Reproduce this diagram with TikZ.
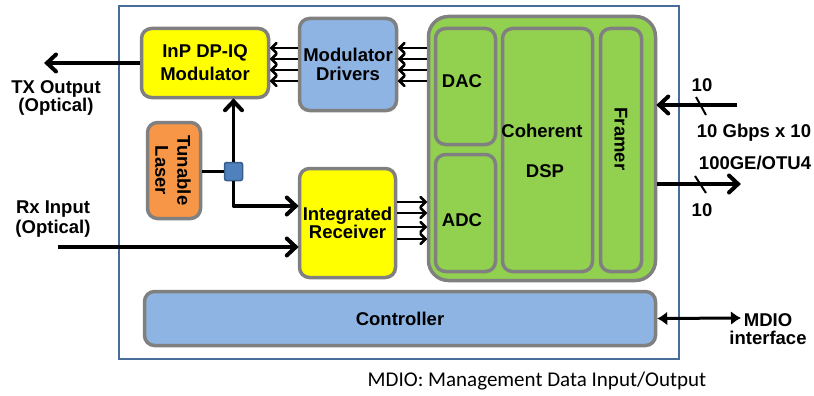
\documentclass[tikz,border=0pt]{standalone}
\usepackage{fontspec}
\setmainfont{Liberation Sans}
\newfontfamily\capfont{Carlito}
\usetikzlibrary{arrows.meta}
\definecolor{boxgray}{HTML}{808080}
\definecolor{yel}{HTML}{FFFF00}
\definecolor{lblue}{HTML}{8DB4E2}
\definecolor{grn}{HTML}{92D050}
\definecolor{org}{HTML}{F79646}
\definecolor{frm}{HTML}{4A6C9B}
\definecolor{spfill}{HTML}{4F81BD}
\definecolor{spdraw}{HTML}{385D8A}
\pgfdeclarearrow{
  name=Chev,
  parameters={\the\pgfarrowlength,\the\pgfarrowwidth,\the\pgfarrowlinewidth},
  setup code={
    \pgfarrowssettipend{.5\pgfarrowlinewidth}
    \pgfarrowssetlineend{-.3\pgfarrowlinewidth}
    \pgfarrowssetbackend{-\pgfarrowlength}
    \pgfarrowsupperhullpoint{-\pgfarrowlength}{.5\pgfarrowwidth}
    \pgfarrowshullpoint{.5\pgfarrowlinewidth}{0pt}
  },
  drawing code={
    \pgfsetlinewidth{\pgfarrowlinewidth}
    \pgfsetroundcap
    \pgfsetmiterjoin
    \pgfpathmoveto{\pgfqpoint{-\pgfarrowlength}{.5\pgfarrowwidth}}
    \pgfpathlineto{\pgfqpoint{0pt}{0pt}}
    \pgfpathlineto{\pgfqpoint{-\pgfarrowlength}{-.5\pgfarrowwidth}}
    \pgfusepathqstroke
  },
  defaults={length=8pt, width=16pt, line width=3.5pt}
}
\begin{document}
\begin{tikzpicture}[x=1pt,y=-1pt,
  blk/.style={draw=boxgray, line width=3.5pt, rounded corners=10pt, inner sep=0pt, align=center},
  lbl/.style={font=\fontsize{18.5}{20}\selectfont\bfseries, align=center, inner sep=0pt},
  big/.style={line width=3.5pt, line join=round, -{Chev[length=9pt,width=17pt,line width=4pt]}},
  bus/.style={line width=2.2pt, -{Chev[length=5pt,width=10pt,line width=2.6pt]}},
  mdio/.style={line width=3pt, {Latex[length=10pt,width=14pt]}-{Latex[length=10pt,width=14pt]}},
]
\useasboundingbox (0,0) rectangle (814,396);
% outer frame
\node[draw=frm, line width=1.5pt, minimum width=560pt, minimum height=353pt, inner sep=0pt] (frame) at (399,182.5) {};
% blocks
\node[blk, fill=yel, minimum width=127pt, minimum height=69pt, font=\fontsize{18.5}{23}\selectfont\bfseries] (mod) at (205,63) {InP DP-IQ\\Modulator};
\node[blk, fill=lblue, minimum width=97pt, minimum height=92pt, font=\fontsize{18.5}{19}\selectfont\bfseries] (drv) at (348,64.5) {Modulator\\Drivers};
\node[blk, fill=grn, minimum width=227pt, minimum height=264pt, rounded corners=20pt] (dsp) at (542,148.5) {};
\node[blk, fill=grn, minimum width=60pt, minimum height=116pt] (dac) at (465.5,86.5) {};
\node[blk, fill=grn, minimum width=60pt, minimum height=117pt] (adc) at (465.5,213) {};
\node[blk, fill=grn, minimum width=90pt, minimum height=243pt] (coh) at (547.5,150) {};
\node[blk, fill=grn, minimum width=41pt, minimum height=243pt] (fr) at (621,150) {};
\node[lbl] (dact) at (462,81) {DAC};
\node[lbl] (adct) at (462,220) {ADC};
\node[lbl] (coht) at (542,131) {Coherent};
\node[lbl] (dspt) at (545,171) {DSP};
\node[lbl, rotate=-90] (frt) at (621,139) {Framer};
\node[blk, fill=org, minimum width=53pt, minimum height=96pt] (laser) at (174,170.5) {};
\node[lbl, rotate=-90, font=\fontsize{18.5}{22}\selectfont\bfseries] (lasert) at (173,170.5) {Tunable\\Laser};
\node[draw=spdraw, fill=spfill, line width=1.5pt, rounded corners=2pt, minimum size=18pt, inner sep=0pt] (spl) at (233.5,171.5) {};
\node[blk, fill=yel, minimum width=96pt, minimum height=109pt, font=\fontsize{18.5}{16.5}\selectfont\bfseries] (rcv) at (347.5,223) {Integrated\\Receiver};
\node[blk, fill=lblue, minimum width=511pt, minimum height=54pt, font=\fontsize{18.5}{20}\selectfont\bfseries] (ctl) at (400,318.5) {Controller};
% outside labels
\node[lbl, font=\fontsize{18.5}{18}\selectfont\bfseries] (txt) at (56,98) {TX Output\\(Optical)};
\node[lbl, font=\fontsize{18.5}{20}\selectfont\bfseries] (rxt) at (53,219) {Rx Input\\(Optical)};
\node[lbl] (in10) at (702,85) {10};
\node[lbl] (out10) at (702,210) {10};
\node[lbl] (gbps) at (754,133) {10 Gbps x 10};
\node[lbl] (ge) at (755,163) {100GE/OTU4};
\node[lbl, font=\fontsize{18.5}{18}\selectfont\bfseries] (mdt) at (768,329) {MDIO\\interface};
\node[inner sep=0pt, font=\capfont\fontsize{21}{24}\selectfont] (cap) at (537,381) {MDIO: Management Data Input/Output};
% coordinates
\coordinate (txend) at (45,63);
\coordinate (rxstart) at (58,247);
\coordinate (rxbend) at (233.5,206);
\coordinate (instart) at (737,105);
\coordinate (outend) at (740,184);
\coordinate (mdend) at (741,318);
% connectors
\draw[big] (mod.west) -- (txend);
\draw[line width=3pt] (laser.east |- spl.west) -- (spl.west);
\draw[big] (spl.north) -- (spl.north |- mod.south);
\draw[big] (spl.south) |- (rcv.west |- rxbend);
\draw[big] (rxstart) -- (rcv.west |- rxstart);
\foreach \yy in {48,59,70,81}{
  \draw[bus] (drv.west |- 0,\yy) -- (mod.east |- 0,\yy);
  \draw[bus] (dsp.west |- 0,\yy) -- (drv.east |- 0,\yy);
}
\foreach \yy in {202,213,227,239}{
  \draw[bus] (rcv.east |- 0,\yy) -- (dsp.west |- 0,\yy);
}
\draw[big] (instart) -- (dsp.east |- instart);
\draw[big] (dsp.east |- outend) -- (outend);
\draw[line width=2pt] (696,97) -- (706,115);
\draw[line width=2pt] (695,176) -- (706,193);
\draw[mdio] (ctl.east) -- (mdend);
\end{tikzpicture}
\end{document}
